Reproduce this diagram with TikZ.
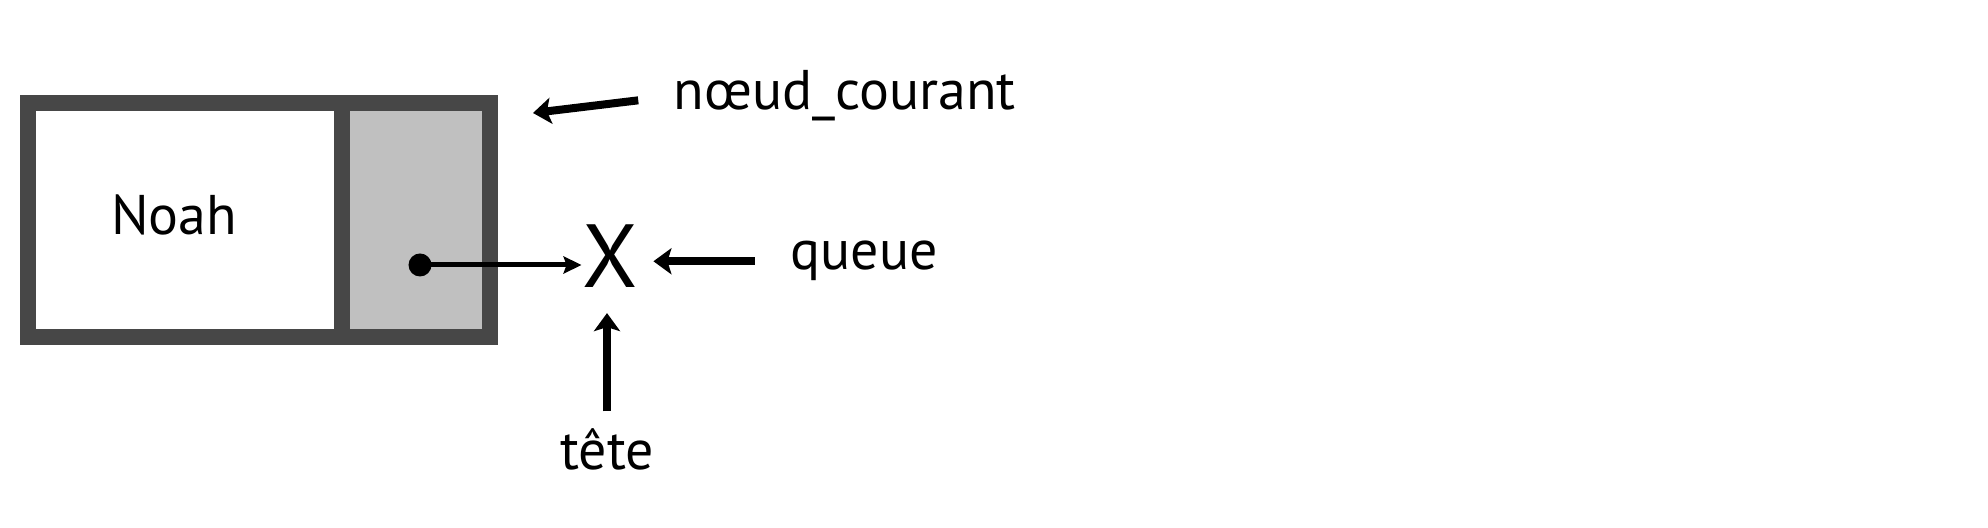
\documentclass[tikz,border=0pt]{standalone}
\usepackage{fontspec}
\setmainfont{PT Sans}
\usetikzlibrary{arrows.meta}
\definecolor{cadre}{HTML}{474747}
\definecolor{fond}{HTML}{C0C0C0}
\tikzstyle{cell}=[draw=cadre, line width=0.16cm, inner sep=0, minimum height=2.34cm]
\tikzstyle{legende}=[inner sep=0, font=\fontsize{15.9}{19}\selectfont]
\tikzstyle{pointer}=[line width=0.05cm, -{Stealth[length=0.18cm, width=0.17cm, inset=0.03cm]}]
\tikzstyle{marker}=[line width=0.08cm, -{Stealth[length=0.18cm, width=0.26cm, inset=0.04cm]}]

\begin{document}
\begin{tikzpicture}[x=0.01cm, y=-0.01cm]
          \useasboundingbox (0,0) rectangle (1988,528);
          \node[cell, minimum width=3.145cm] (data) at (185.25, 220) {};
          \node[cell, fill=fond, minimum width=1.475cm] (ptr) at (416.25, 220) {};
          \node[legende] (nom) at (174, 215) {Noah};
          \node[circle, fill, inner sep=0, minimum size=0.23cm] (dot) at (420, 265) {};
          \node[inner sep=0, font=\fontsize{25.5}{30}\selectfont] (nil) at (610, 256) {X};

          \node[legende, anchor=base west] (courant) at (673, 110) {nœud\_courant};
          \node[legende, anchor=base west] (queue) at (790, 270) {queue};
          \node[legende, anchor=base] (tete) at (607, 470) {tête};
          \coordinate (cible) at (533, 113);

          \draw[pointer] (dot.center) -- (dot.center -| nil.west);
          \draw[marker, shorten <=0.35cm] (courant.west) -- (cible);
          \draw[marker, shorten <=0.35cm, shorten >=0.15cm] (queue.west) -- (queue.west -| nil.east);
          \draw[marker, shorten <=0.17cm, shorten >=0.25cm] (tete.north) -- (tete.north |- nil.south);
        \end{tikzpicture}
\end{document}
